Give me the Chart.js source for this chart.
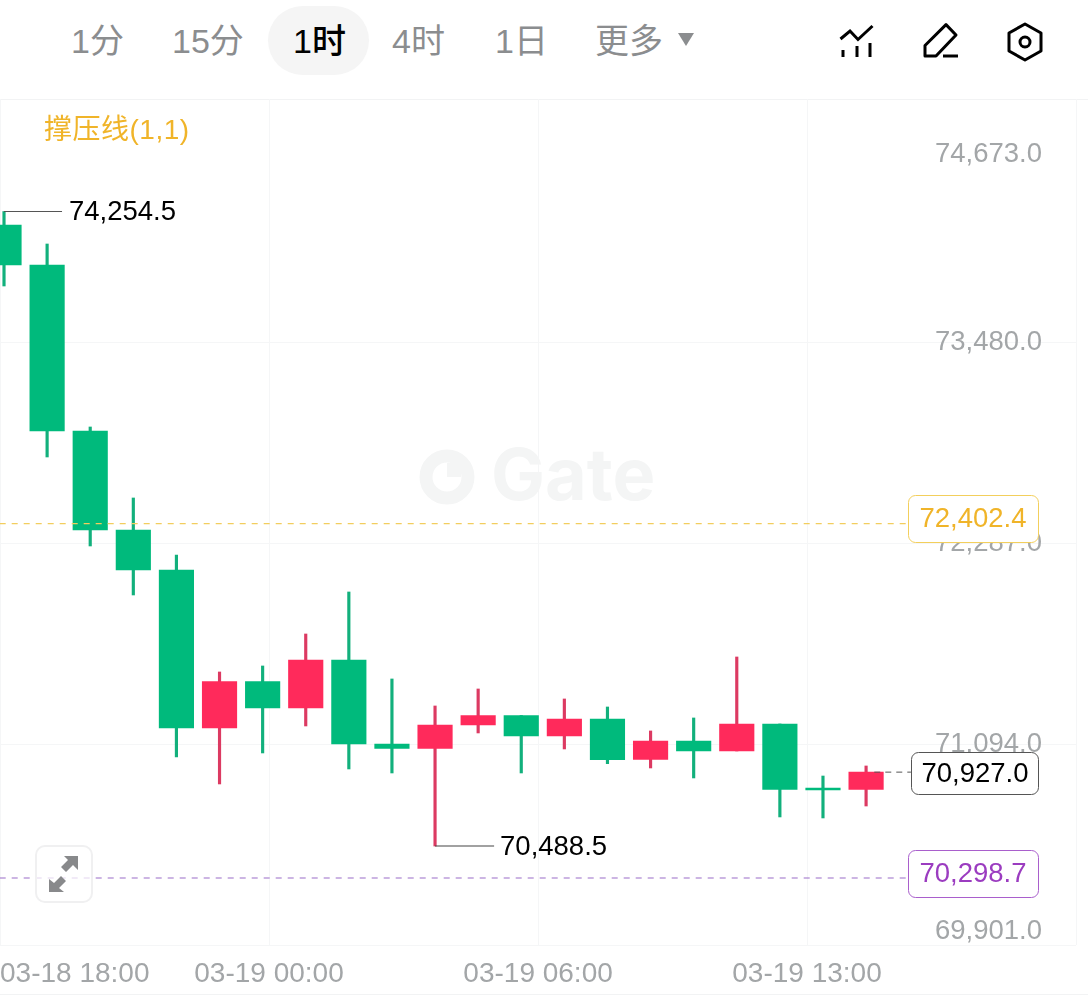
<!DOCTYPE html>
<html lang="zh">
<head>
<meta charset="utf-8">
<title>K线</title>
<script src="https://cdn.jsdelivr.net/npm/chart.js@4/dist/chart.umd.min.js"></script>
<style>
  html, body { margin: 0; padding: 0; background: #fff; }
  body { position: relative; width: 1088px; height: 995px; overflow: hidden; }
  #chart { position: absolute; left: 0; top: 0; }
  .tab { position: absolute; top: 20px; font: 400 34px/42px "Liberation Sans", "Noto Sans CJK SC", sans-serif; color: #8b8d8f; white-space: nowrap; }
  .tab.on { color: #000; font-weight: 500; }
  #pill { position: absolute; left: 268px; top: 6px; width: 101px; height: 69px; border-radius: 35px; background: #f5f5f5; }
  #tri { position: absolute; left: 678px; top: 33px; width: 0; height: 0; border-left: 8.5px solid transparent; border-right: 8.5px solid transparent; border-top: 13px solid #8b8d8f; }
  #head-line { position: absolute; left: 0; top: 99px; width: 1088px; height: 1px; background: #f2f3f4; }
  #foot-line { position: absolute; left: 0; top: 994px; width: 1088px; height: 1px; background: #f2f3f4; }
  #icons { position: absolute; left: 0; top: 0; }
  #expand { position: absolute; left: 35px; top: 845px; width: 54px; height: 54px; border: 2px solid #f0f0f1; border-radius: 10px; background: rgba(255,255,255,.72); }
</style>
</head>
<body>
<div id="pill"></div>
<span class="tab" style="left:71px">1分</span>
<span class="tab" style="left:172px">15分</span>
<span class="tab on" style="left:293px">1时</span>
<span class="tab" style="left:392px">4时</span>
<span class="tab" style="left:495px">1日</span>
<span class="tab" style="left:595px">更多</span>
<div id="tri"></div>
<svg id="icons" width="1088" height="99" fill="none" stroke="#000" stroke-width="3">
  <polyline points="840.5,39 850,31 858,39.5 872.5,26"/>
  <path d="M843 50V57M857 46V57M870 43V57"/>
  <path d="M925 45.5L946 24.6L956 35L936 56H925Z" stroke-linejoin="round"/>
  <path d="M943 56H958"/>
  <polygon points="1025,24 1041,33 1041,51 1025,60 1009,51 1009,33" stroke-linejoin="round"/>
  <circle cx="1025" cy="42" r="5"/>
</svg>
<div id="head-line"></div>
<canvas id="chart" width="1088" height="995"></canvas>
<div id="foot-line"></div>
<div id="expand">
  <svg width="54" height="54" fill="#88898b" stroke="none">
    <path d="M27 9H41V23L36 18L29 25L24 20L31 13Z"/>
    <path d="M12 33L17 37L24 30L29 35L22 42L27 46H12Z" transform="translate(0,-1)"/>
  </svg>
</div>
<script>
const opens  = [74174.5, 73937.1, 72951.9, 72364.3, 72126.9, 71189.1, 71465.1, 71307.9, 71592.7, 71094.0, 71067.5, 71207.0, 71263.2, 71141.7, 71242.6, 71002.0, 71112.0, 71052.6, 71212.9, 70833.0, 70824.1];
const closes = [73937.1, 72951.9, 72364.3, 72126.9, 71189.1, 71465.1, 71307.9, 71592.7, 71094.0, 71067.5, 71207.0, 71263.2, 71141.7, 71242.6, 71001.2, 71112.0, 71052.6, 71212.9, 70824.1, 70821.0, 70927.0];
const highs  = [74254.5, 74061.7, 72975.6, 72554.2, 72215.9, 71521.5, 71557.1, 71747.0, 71996.3, 71480.0, 71319.7, 71420.6, 71263.2, 71361.3, 71313.7, 71171.4, 71248.5, 71610.5, 71212.9, 70904.0, 70963.6];
const lows   = [73812.4, 72797.5, 72269.3, 71978.5, 71017.0, 70856.8, 71040.8, 71201.0, 70945.8, 70922.0, 70488.5, 71159.5, 70922.0, 71064.5, 70977.4, 70951.7, 70892.4, 71052.6, 70661.0, 70655.0, 70726.0];

const priceTicks = [74673, 73480, 72287, 71094, 69901];
const priceTickLabels = [['', '74,673.0'], '73,480.0', '72,287.0', '71,094.0', ['69,901.0', '']];
const timeTicks = [-0.093, 6.148, 12.39, 18.63, 24.87];
const timeTickLabels = ['03-18 18:00', '03-19 00:00', '03-19 06:00', '03-19 13:00', ''];

const highIndex = 0, highValue = 74254.5, highLabel = '74,254.5';
const lowIndex = 10, lowValue = 70488.5, lowLabel = '70,488.5';
const lastValue = 70927.0, lastLabel = '70,927.0';
const resistValue = 72402.4, resistLabel = '72,402.4';
const supportValue = 70298.7, supportLabel = '70,298.7';

const GREEN = '#00ba7c', RED = '#ff2a5b';
const GREEN_WICK = '#12b07c', RED_WICK = '#dc3a62';
const YELLOW = '#f0b429', PURPLE = '#9b3cc0';
const GRID = '#f5f6f7', TICK = '#a3a6a8';
const FONT = '"Liberation Sans", "Noto Sans CJK SC", sans-serif';

const isUp = i => closes[i] > opens[i];

function refLine(points, color, dash, width) {
    return {
        type: 'line',
        data: points.map(p => ({ x: p[0], y: p[1] })),
        borderColor: color,
        borderWidth: width,
        borderDash: dash,
        pointRadius: 0,
        order: 0
    };
}

function roundBox(ctx, x, y, w, h, stroke) {
    ctx.beginPath();
    ctx.roundRect(x, y, w, h, 7);
    ctx.fillStyle = '#fff';
    ctx.fill();
    ctx.lineWidth = 1;
    ctx.strokeStyle = stroke;
    ctx.stroke();
}

// watermark sits under the candles
const watermark = {
    id: 'watermark',
    beforeDatasetsDraw(chart) {
        const ctx = chart.ctx;
        ctx.save();
        ctx.strokeStyle = '#f4f5f5';
        ctx.lineWidth = 13;
        ctx.beginPath();
        ctx.arc(447, 477, 21, -0.5 * Math.PI, 1.85 * Math.PI);
        ctx.stroke();
        ctx.fillStyle = '#f4f5f5';
        ctx.fillRect(447, 463, 14, 14);
        ctx.font = '700 72px Inter, sans-serif';
        ctx.textAlign = 'left';
        ctx.textBaseline = 'middle';
        ctx.fillText('Gate', 491, 478);
        ctx.restore();
    }
};

// labels and price tags over the candles
const annotations = {
    id: 'annotations',
    afterDatasetsDraw(chart) {
        const ctx = chart.ctx, x = chart.scales.x, y = chart.scales.y;
        ctx.save();
        ctx.textBaseline = 'middle';

        ctx.font = '28px ' + FONT;
        ctx.fillStyle = YELLOW;
        ctx.textAlign = 'left';
        ctx.letterSpacing = '0.5px';
        ctx.fillText('撑压线(1,1)', 44, 131);
        ctx.letterSpacing = '0px';

        ctx.font = '27.5px ' + FONT;
        ctx.fillStyle = '#000';
        ctx.fillText(highLabel, x.getPixelForValue(highIndex) + 65, y.getPixelForValue(highValue) + 1);
        ctx.fillText(lowLabel, x.getPixelForValue(lowIndex) + 65, y.getPixelForValue(lowValue) + 1);

        ctx.textAlign = 'center';
        roundBox(ctx, 908.5, 495.5, 130, 47, '#f3cf5c');
        ctx.fillStyle = YELLOW;
        ctx.fillText(resistLabel, 973, 519);

        roundBox(ctx, 911.5, 752.5, 127, 42, '#555');
        ctx.fillStyle = '#000';
        ctx.fillText(lastLabel, 975, 774);

        roundBox(ctx, 908.5, 850.5, 130, 47, '#a95fcc');
        ctx.fillStyle = PURPLE;
        ctx.fillText(supportLabel, 973, 874);
        ctx.restore();
    }
};

new Chart(document.getElementById('chart'), {
    type: 'bar',
    plugins: [watermark, annotations],
    data: {
        datasets: [
            {
                data: opens.map((o, i) => ({ x: i, y: [o, closes[i]] })),
                backgroundColor: opens.map((o, i) => isUp(i) ? RED : GREEN),
                borderWidth: 0,
                barThickness: 34.5,
                grouped: false,
                order: 1
            },
            {
                data: highs.map((h, i) => ({ x: i, y: [lows[i], h] })),
                backgroundColor: highs.map((h, i) => isUp(i) ? RED_WICK : GREEN_WICK),
                borderWidth: 0,
                barThickness: 2.5,
                grouped: false,
                order: 2
            },
            refLine([[-0.1, resistValue], [20.97, resistValue]], '#f2cd5e', [6, 6], 1.2),
            refLine([[-0.1, supportValue], [20.97, supportValue]], '#9a6cc8', [6, 6], 1.2),
            refLine([[20.19, lastValue], [21.04, lastValue]], '#555', [6, 5], 1),
            refLine([[highIndex, highValue], [1.346, highValue]], '#555', [], 1.2),
            refLine([[lowIndex, lowValue], [11.37, lowValue]], '#444', [], 1.2)
        ]
    },
    options: {
        responsive: false,
        animation: false,
        layout: { padding: { top: 99, right: 12, left: 0, bottom: 0 } },
        plugins: { legend: { display: false }, tooltip: { enabled: false } },
        scales: {
            x: {
                type: 'linear',
                offset: false,
                min: timeTicks[0],
                max: timeTicks[timeTicks.length - 1],
                grid: { color: GRID, offset: false, tickLength: 12, tickColor: 'rgba(0,0,0,0)' },
                border: { display: false },
                afterBuildTicks: s => { s.ticks = timeTicks.map(v => ({ value: v })); },
                afterFit: s => { s.height = 50; },
                ticks: {
                    align: 'inner',
                    autoSkip: false,
                    maxRotation: 0,
                    padding: 0,
                    color: TICK,
                    font: { family: FONT, size: 28 },
                    callback: (v, i) => timeTickLabels[i]
                }
            },
            y: {
                position: 'right',
                min: 69901,
                max: 74922.3,
                grid: {
                    drawTicks: false,
                    color: c => c.tick && c.tick.value === priceTicks[0] ? 'rgba(0,0,0,0)' : GRID
                },
                border: { display: false },
                afterBuildTicks: s => { s.ticks = priceTicks.map(v => ({ value: v })); },
                afterFit: s => { s.width = 0; },
                ticks: {
                    mirror: true,
                    padding: -34,
                    color: TICK,
                    font: { family: FONT, size: 27.5, lineHeight: 1 },
                    callback: (v, i) => priceTickLabels[i]
                }
            }
        }
    }
});
</script>
</body>
</html>
